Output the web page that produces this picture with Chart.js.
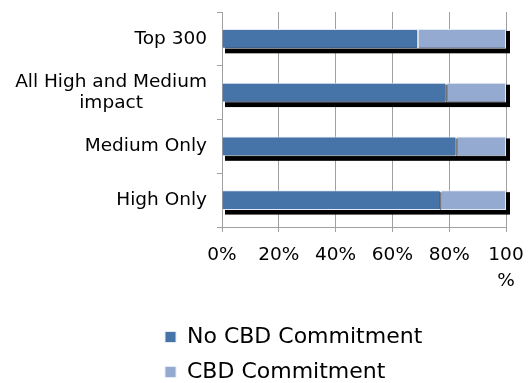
<!DOCTYPE html>
<html>
<head>
<meta charset="utf-8">
<script src="https://cdn.jsdelivr.net/npm/chart.js@4"></script>
<style>
  body { margin: 0; background: #fff; }
  #wrap { width: 531px; height: 383px; }
</style>
</head>
<body>
<div id="wrap"><canvas id="canvas"></canvas></div>
<script>
// chart data
const categories = ['Top 300', ['All High and Medium', 'impact'], 'Medium Only', 'High Only'];
const noCommitment = [69, 79, 82.5, 77];
const commitment = [31, 21, 17.5, 23];
const xTicks = [0, 20, 40, 60, 80, 100];

const darkBlue = '#4674a8';
const lightBlue = '#95aad0';
const gridGrey = '#a0a0a0';
const barEdge = '#e4eaf3';

// black drop shadow behind each stacked bar
const shadowPlugin = {
  id: 'barShadow',
  beforeDatasetsDraw(chart) {
    const ctx = chart.ctx;
    const first = chart.getDatasetMeta(0).data;
    const last = chart.getDatasetMeta(1).data;
    ctx.save();
    ctx.fillStyle = '#000';
    first.forEach((bar, i) => {
      const left = Math.min(bar.base, bar.x);
      const right = Math.max(last[i].base, last[i].x);
      const top = bar.y - bar.height / 2;
      ctx.fillRect(left + 2.5, top + 2, right - left + 1.5, bar.height + 2.5);
    });
    ctx.restore();
  }
};

// category labels, right aligned, second line of a wrapped label centred under the first
const yLabelPlugin = {
  id: 'yLabels',
  afterDraw(chart) {
    const ctx = chart.ctx;
    const yScale = chart.scales.y;
    const xRight = yScale.right - 15;
    ctx.save();
    ctx.font = '18.5px "DejaVu Sans"';
    ctx.fillStyle = '#000';
    ctx.textBaseline = 'middle';
    categories.forEach((label, i) => {
      const y = yScale.getPixelForTick(i);
      if (Array.isArray(label)) {
        const w = ctx.measureText(label[0]).width;
        const lh = 21;
        const y0 = y - lh * (label.length - 1) / 2;
        ctx.textAlign = 'right';
        ctx.fillText(label[0], xRight, y0);
        ctx.textAlign = 'center';
        for (let k = 1; k < label.length; k++) {
          ctx.fillText(label[k], xRight - w / 2, y0 + lh * k);
        }
      } else {
        ctx.textAlign = 'right';
        ctx.fillText(label, xRight, y);
      }
    });
    ctx.restore();
  }
};

const ctx = document.getElementById('canvas');
new Chart(ctx, {
  type: 'bar',
  data: {
    labels: categories,
    datasets: [
      {
        label: 'No CBD Commitment',
        data: noCommitment,
        backgroundColor: darkBlue,
        borderColor: barEdge,
        borderWidth: 1,
        borderSkipped: 'start'
      },
      {
        label: 'CBD Commitment',
        data: commitment,
        backgroundColor: lightBlue,
        borderColor: barEdge,
        borderWidth: 1,
        borderSkipped: false
      }
    ]
  },
  plugins: [shadowPlugin, yLabelPlugin],
  options: {
    indexAxis: 'y',
    responsive: true,
    maintainAspectRatio: false,
    animation: false,
    datasets: { bar: { categoryPercentage: 1, barPercentage: 0.37 } },
    layout: { padding: { top: 12, right: 25, left: 152, bottom: 0 } },
    plugins: {
      tooltip: { enabled: false },
      legend: {
        position: 'bottom',
        align: 'start',
        maxHeight: 70,
        labels: {
          boxWidth: 11,
          boxHeight: 11,
          padding: 13,
          color: '#000',
          font: { family: 'DejaVu Sans', size: 22 }
        }
      }
    },
    scales: {
      x: {
        stacked: true,
        min: 0,
        max: 100,
        afterBuildTicks: scale => { scale.ticks = xTicks.map(v => ({ value: v })); },
        afterFit: scale => {
          scale.height = 86;
          scale.paddingRight = 0; // let the "100" label hang past the plot edge
        },
        grid: { color: gridGrey, tickLength: 5 },
        border: { color: gridGrey },
        ticks: {
          autoSkip: false,
          maxRotation: 0,
          padding: 10,
          color: '#000',
          font: { family: 'DejaVu Sans', size: 18.5, lineHeight: 1.4 },
          callback: v => v === 100 ? ['100', '%'] : v + '%'
        }
      },
      y: {
        stacked: true,
        afterFit: scale => { scale.width = 70; },
        grid: { drawOnChartArea: false, tickLength: 5, color: gridGrey, offset: true },
        border: { color: gridGrey },
        ticks: { display: false }
      }
    }
  }
});
</script>
</body>
</html>
